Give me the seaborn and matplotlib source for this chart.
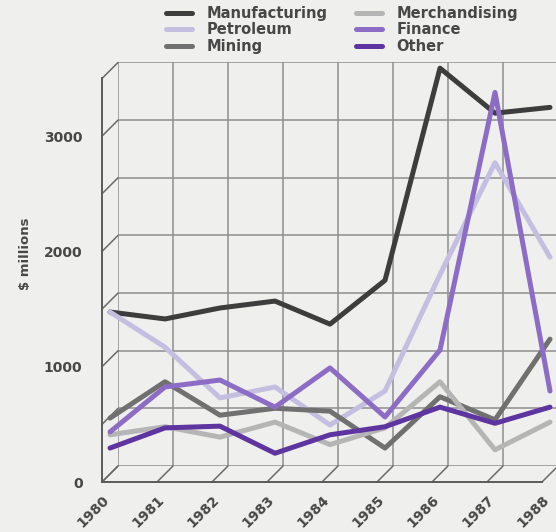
import numpy as np
import pandas as pd
import seaborn as sns
import matplotlib.pyplot as plt
from matplotlib.patches import ConnectionPatch

# Values ($ millions)
years = [1980, 1981, 1982, 1983, 1984, 1985, 1986, 1987, 1988]
manufacturing = [1405, 1345, 1440, 1500, 1300, 1680, 3520, 3130, 3180]
petroleum = [1405, 1100, 660, 755, 425, 720, 1730, 2700, 1880]
mining = [485, 800, 510, 570, 545, 225, 670, 470, 1170]
merchandising = [340, 410, 320, 450, 255, 400, 800, 210, 450]
finance = [365, 755, 815, 580, 920, 495, 1075, 3310, 720]
other = [225, 400, 415, 180, 340, 410, 580, 440, 580]

series = ["Manufacturing", "Petroleum", "Mining", "Merchandising", "Finance", "Other"]
colors = ["#3d3d3d", "#c4bee0", "#707070", "#b5b5b5", "#8c6cc4", "#5e35a0"]
y_ticks = [0, 500, 1000, 1500, 2000, 2500, 3000, 3500]
y_labels = ["0", "", "1000", "", "2000", "", "3000", ""]

df = pd.DataFrame({"year": years, "Manufacturing": manufacturing, "Petroleum": petroleum,
                   "Mining": mining, "Merchandising": merchandising,
                   "Finance": finance, "Other": other})
long_df = df.melt(id_vars="year", var_name="sector", value_name="value")

sns.set_style("white")
plt.rcParams["font.family"] = ["DejaVu Sans"]
text_color = "#474747"
bg = "#efefed"

W, H = 556, 532
fig = plt.figure(figsize=(W / 100, H / 100), dpi=100, facecolor=bg)

# mid plane (data), back plane (grid) and front plane (axes), in pixels
left, right, bottom, top = 110, 550, 474, 70.5
depth = 8


def add_plane(dx, dy, z):
    # dx: pixels to the right, dy: pixels upward
    a = fig.add_axes([(left + dx) / W, (H - bottom + dy) / H,
                      (right - left) / W, (bottom - top) / H], zorder=z)
    a.set_xlim(years[0], years[-1])
    a.set_ylim(0, 3500)
    a.patch.set_alpha(0)
    return a


ax_back = add_plane(depth, depth, 0)
ax = add_plane(0, 0, 1)
ax_front = add_plane(-depth, -depth, 2)

# back wall grid
ax_back.set_xticks(years)
ax_back.set_yticks(y_ticks)
ax_back.grid(True, color="#8e8e8e", linewidth=1.1)
ax_back.tick_params(length=0, labelbottom=False, labelleft=False)
for s in ax_back.spines.values():
    s.set_visible(False)

# data lines
sns.lineplot(data=long_df, x="year", y="value", hue="sector", hue_order=series,
             palette=colors, linewidth=3.6, ax=ax, legend=False, clip_on=False)
ax.set_axis_off()

# front axes
for s in ["top", "right"]:
    ax_front.spines[s].set_visible(False)
for s in ["left", "bottom"]:
    ax_front.spines[s].set_color("#5a5a5a")
    ax_front.spines[s].set_linewidth(1.4)
ax_front.set_xticks(years)
ax_front.set_xticklabels([str(y) for y in years], rotation=45, ha="right",
                         rotation_mode="anchor", fontsize=10, fontweight="bold",
                         color=text_color)
ax_front.set_yticks(y_ticks)
ax_front.set_yticklabels(y_labels, fontsize=10, fontweight="bold", color=text_color)
ax_front.tick_params(axis="both", direction="out", length=6, width=1.4, color="#5a5a5a")
ax_front.tick_params(axis="x", pad=2)
ax_front.tick_params(axis="y", pad=8)
ax_front.set_xlabel("")
ax_front.set_ylabel("")

# depth lines joining the front axes to the back wall
for yr in years:
    fig.add_artist(ConnectionPatch(xyA=(yr, 0), coordsA=ax_front.transData,
                                   xyB=(yr, 0), coordsB=ax_back.transData,
                                   color="#6a6a6a", linewidth=1.1))
for v in y_ticks:
    fig.add_artist(ConnectionPatch(xyA=(years[0], v), coordsA=ax_front.transData,
                                   xyB=(years[0], v), coordsB=ax_back.transData,
                                   color="#6a6a6a", linewidth=1.1))

fig.text(25 / W, 1 - 254 / H, "$ millions", rotation=90, ha="center", va="center",
         fontsize=9.5, fontweight="bold", color=text_color)

handles = [plt.Line2D([], [], color=c, linewidth=3.6) for c in colors]
fig.legend(handles, series, loc="upper left", bbox_to_anchor=(166 / W, 1 - 6 / H),
           ncol=2, frameon=False, prop={"weight": "bold", "size": 10.5},
           handlelength=1.8, handletextpad=1.0, labelspacing=0.1, columnspacing=1.9,
           borderaxespad=0, borderpad=0, labelcolor=text_color)

fig.savefig("out.png", dpi=100, facecolor=bg)
